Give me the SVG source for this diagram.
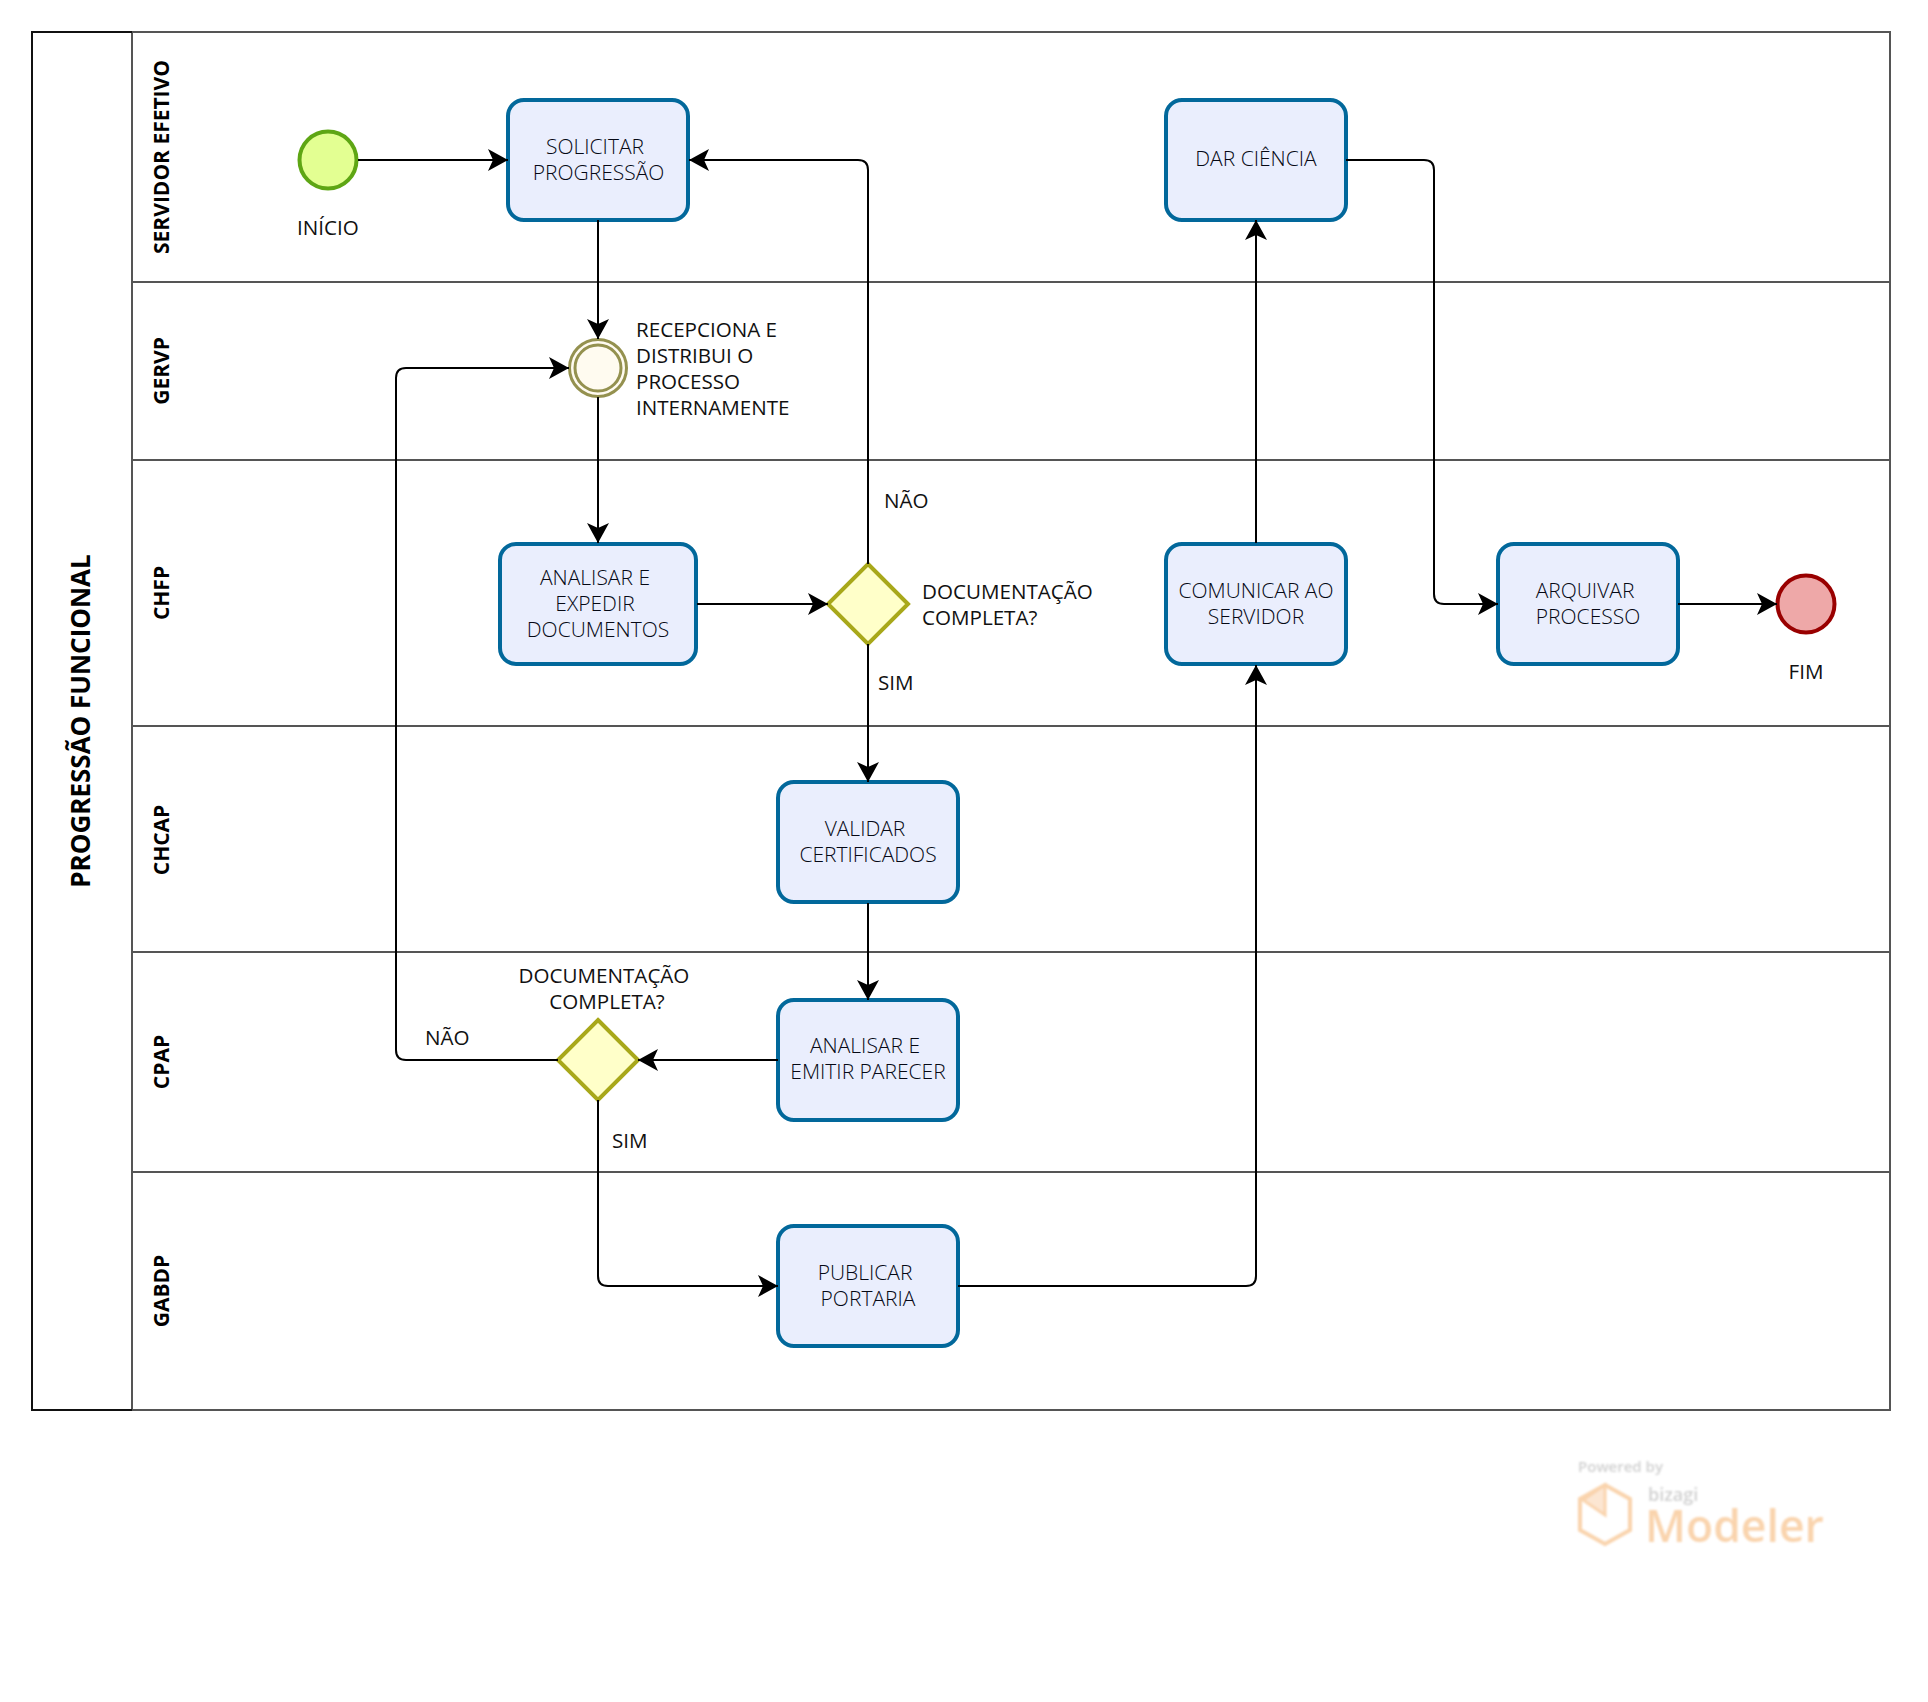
<svg xmlns="http://www.w3.org/2000/svg" width="1928" height="1702" viewBox="0 0 1928 1702">
<style>
text{font-family:"Open Sans","Noto Sans",sans-serif;font-size:20.600px;fill:#111}
.t{text-anchor:middle;fill:#050814;font-weight:300;font-size:21px}
.c{text-anchor:middle}
.lane{fill:none;stroke:#555;stroke-width:2}
.ll{font-weight:700;font-size:21px;text-anchor:middle;fill:#000}
.task{fill:#eaeefd;stroke:#02689b;stroke-width:4}
.gw{fill:#ffffc9;stroke:#a8a81a;stroke-width:4}
.cn path{fill:none;stroke:#000;stroke-width:2;marker-end:url(#a)}
</style>
<defs>
<marker id="a" markerUnits="userSpaceOnUse" markerWidth="24" markerHeight="24" refX="21" refY="12" orient="auto"><path d="M1 1L21 12L1 23L6 12Z" fill="#000"/></marker>
<filter id="bl" x="-5%" y="-5%" width="110%" height="110%"><feGaussianBlur stdDeviation="0.9"/></filter>
</defs>
<g id="pool">
<rect x="32" y="32" width="1858" height="1378" fill="#fff" stroke="none"/>
<rect class="lane" x="132" y="32" width="1758" height="1378"/>
<path d="M132 32H32V1410H132" fill="none" stroke="#111" stroke-width="2"/>
<path class="lane" d="M132 282H1890M132 460H1890M132 726H1890M132 952H1890M132 1172H1890"/>
<text transform="translate(89.500,721) rotate(-90)" style="font-weight:700;font-size:26px;text-anchor:middle;fill:#000">PROGRESSÃO FUNCIONAL</text>
<text class="ll" transform="translate(169,157) rotate(-90)">SERVIDOR EFETIVO</text>
<text class="ll" transform="translate(169,371) rotate(-90)">GERVP</text>
<text class="ll" transform="translate(169,593) rotate(-90)">CHFP</text>
<text class="ll" transform="translate(169,840) rotate(-90)">CHCAP</text>
<text class="ll" transform="translate(169,1062) rotate(-90)">CPAP</text>
<text class="ll" transform="translate(169,1291) rotate(-90)">GABDP</text>
</g>
<g id="inicio"><circle cx="328" cy="160" r="28.500" fill="#e3ff92" stroke="#5ea614" stroke-width="4"/><text class="c" x="328" y="235">INÍCIO</text></g>
<g id="solicitar"><rect class="task" x="508" y="100" width="180" height="120" rx="16"/><text class="t" x="595" y="154">SOLICITAR</text><text class="t" x="598.500" y="180">PROGRESSÃO</text></g>
<g id="dar"><rect class="task" x="1166" y="100" width="180" height="120" rx="16"/><text class="t" x="1256" y="166">DAR CIÊNCIA</text></g>
<g id="recepciona"><circle cx="598" cy="368" r="28.500" fill="#fffbf0" stroke="#94914f" stroke-width="3"/><circle cx="598" cy="368" r="23" fill="#fffbf0" stroke="#94914f" stroke-width="3"/>
<text x="636" y="337">RECEPCIONA E</text><text x="636" y="363">DISTRIBUI O</text><text x="636" y="389">PROCESSO</text><text x="636" y="415">INTERNAMENTE</text></g>
<g id="analisar"><rect class="task" x="500" y="544" width="196" height="120" rx="16"/><text class="t" x="595" y="585">ANALISAR E</text><text class="t" x="595" y="611">EXPEDIR</text><text class="t" x="598" y="637">DOCUMENTOS</text></g>
<g id="gw1"><path class="gw" d="M868 564L908 604L868 644L828 604Z"/><text x="922" y="599">DOCUMENTAÇÃO</text><text x="922" y="625">COMPLETA?</text></g>
<g id="comunicar"><rect class="task" x="1166" y="544" width="180" height="120" rx="16"/><text class="t" x="1256" y="598">COMUNICAR AO</text><text class="t" x="1256" y="624">SERVIDOR</text></g>
<g id="arquivar"><rect class="task" x="1498" y="544" width="180" height="120" rx="16"/><text class="t" x="1585" y="598">ARQUIVAR</text><text class="t" x="1588" y="624">PROCESSO</text></g>
<g id="fim"><circle cx="1806" cy="604" r="28.500" fill="#eea8a8" stroke="#990000" stroke-width="4"/><text class="c" x="1806" y="679">FIM</text></g>
<g id="validar"><rect class="task" x="778" y="782" width="180" height="120" rx="16"/><text class="t" x="865" y="836">VALIDAR</text><text class="t" x="868" y="862">CERTIFICADOS</text></g>
<g id="parecer"><rect class="task" x="778" y="1000" width="180" height="120" rx="16"/><text class="t" x="865" y="1053">ANALISAR E</text><text class="t" x="868" y="1079">EMITIR PARECER</text></g>
<g id="gw2"><path class="gw" d="M598 1020L638 1060L598 1100L558 1060Z"/><text class="c" x="604" y="983">DOCUMENTAÇÃO</text><text class="c" x="607" y="1009">COMPLETA?</text></g>
<g id="publicar"><rect class="task" x="778" y="1226" width="180" height="120" rx="16"/><text class="t" x="865" y="1280">PUBLICAR</text><text class="t" x="868" y="1306">PORTARIA</text></g>
<g id="connectors" class="cn">
<path d="M358 160H508"/>
<path d="M598 220V339"/>
<path d="M598 397V543"/>
<path d="M697 604H828"/>
<path d="M868 564V170Q868 160 858 160H689"/>
<path d="M868 644V782"/>
<path d="M868 903V1000"/>
<path d="M778 1060H638"/>
<path d="M558 1060H406Q396 1060 396 1050V378Q396 368 406 368H569"/>
<path d="M598 1100V1276Q598 1286 608 1286H778"/>
<path d="M958 1286H1246Q1256 1286 1256 1276V665"/>
<path d="M1256 543V220"/>
<path d="M1346 160H1424Q1434 160 1434 170V594Q1434 604 1444 604H1498"/>
<path d="M1678 604H1777"/>
</g>
<g id="labels">
<text x="884" y="508">NÃO</text><text x="878" y="690">SIM</text><text x="425" y="1045">NÃO</text><text x="612" y="1148">SIM</text>
</g>
<g id="logo" filter="url(#bl)" opacity="0.55">
<text x="1578" y="1472" style="font-size:15px;font-weight:600;fill:#aaa">Powered by</text>
<text x="1648" y="1501" style="font-size:18px;font-weight:600;fill:#aaa">bizagi</text>
<text x="1645" y="1542" style="font-size:44.500px;font-weight:600;fill:#f5b06a">Modeler</text>
<path d="M1605 1485L1630 1499V1530L1605 1544L1580 1530V1499Z" fill="none" stroke="#f5b06a" stroke-width="4"/>
<path d="M1605 1485V1515L1583 1500Z" fill="#fad3ae" stroke="#f5b06a" stroke-width="3"/>
</g>
</svg>
